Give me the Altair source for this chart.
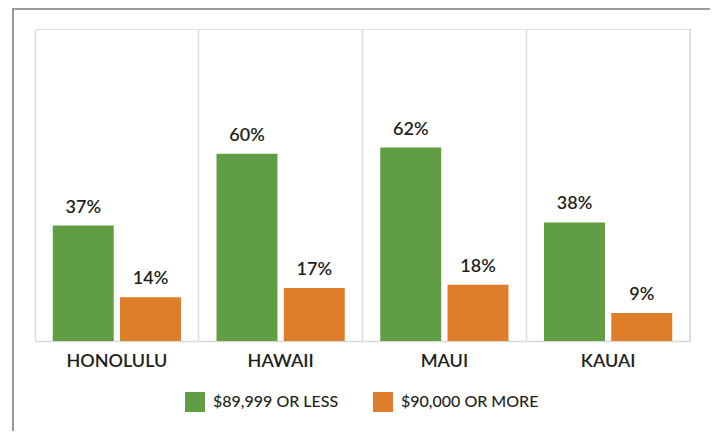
import altair as alt
import pandas as pd

cities = ["HONOLULU", "HAWAII", "MAUI", "KAUAI"]
series = ["$89,999 OR LESS", "$90,000 OR MORE"]
low_income = [37, 60, 62, 38]
high_income = [14, 17, 18, 9]
colors = ["#609D43", "#DE7E2A"]

rows = []
for c, a, b in zip(cities, low_income, high_income):
    rows.append({"city": c, "group": series[0], "value": a, "label": f"{a}%"})
    rows.append({"city": c, "group": series[1], "value": b, "label": f"{b}%"})
df = pd.DataFrame(rows)

W, H = 655, 312
FONT = "Lato"
TXT = "#231F20"

x_enc = alt.X("city:N", sort=cities, title=None,
              scale=alt.Scale(paddingInner=0, paddingOuter=0),
              axis=alt.Axis(labelAngle=0, labelFontSize=18, labelFont=FONT, labelFontWeight=600,
                            labelColor=TXT, labelPadding=11, ticks=False,
                            domainColor="#D9D9D9", domainWidth=1.5,
                            grid=True, gridColor="#DDDDDD", gridWidth=1.5, bandPosition=0))
xo_enc = alt.XOffset("group:N", sort=series,
                     scale=alt.Scale(paddingInner=0.094, paddingOuter=0.264))
y_enc = alt.Y("value:Q", scale=alt.Scale(domain=[0, 100]), axis=None)

base = alt.Chart(df)

bars = base.mark_bar().encode(
    x=x_enc, xOffset=xo_enc, y=y_enc,
    color=alt.Color("group:N", sort=series,
                    scale=alt.Scale(domain=series, range=colors),
                    legend=alt.Legend(title=None, orient="none", legendX=150, legendY=363,
                                      direction="horizontal", symbolType="square",
                                      symbolSize=400, symbolStrokeWidth=0, symbolOpacity=1,
                                      labelFontSize=16, labelFont=FONT, labelFontWeight=500,
                                      labelColor=TXT, labelOffset=8, columnPadding=34)),
)

labels = base.mark_text(baseline="alphabetic", dy=-13, fontSize=18, font=FONT,
                        fontWeight=600, color=TXT).encode(
    x=x_enc, xOffset=xo_enc, y=y_enc, text="label:N")

right_rule = alt.Chart(df).mark_rule(color="#DDDDDD", strokeWidth=1.5).encode(
    x=alt.value(W), y=alt.value(0), y2=alt.value(H))

frame_left = alt.Chart(df).mark_rule(color="#999999", strokeWidth=1.5, clip=False).encode(
    x=alt.value(-22), y=alt.value(-21), y2=alt.value(H + 100))
frame_right = alt.Chart(df).mark_rule(color="#999999", strokeWidth=1.5, clip=False).encode(
    x=alt.value(676), y=alt.value(-21), y2=alt.value(H + 100))
frame_top = alt.Chart(df).mark_rule(color="#999999", strokeWidth=1.5, clip=False).encode(
    x=alt.value(-22), x2=alt.value(676), y=alt.value(-20.5))

chart = alt.layer(right_rule, bars, labels, frame_left, frame_right, frame_top).properties(
    width=W, height=H,
    autosize=alt.AutoSizeParams(type="none"),
    padding={"left": 27, "top": 21, "right": 20, "bottom": 90},
).configure_view(stroke=None).configure(background="white")

chart.save("out.html", embed_options={"renderer": "svg", "actions": False})
